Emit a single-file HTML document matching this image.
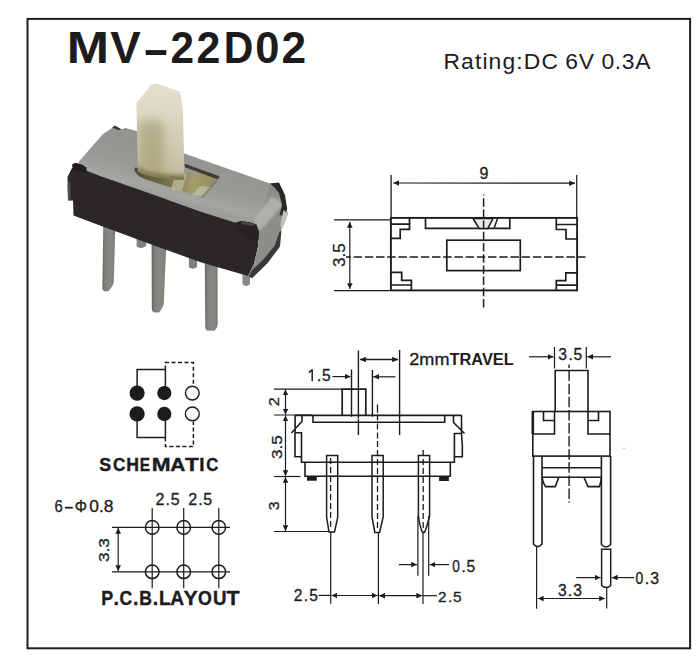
<!DOCTYPE html>
<html><head><meta charset="utf-8">
<style>
html,body{margin:0;padding:0;background:#fff;}
body{width:700px;height:660px;overflow:hidden;position:relative;}
svg{position:absolute;left:0;top:0;}
text{font-family:"Liberation Sans",sans-serif;fill:#1d1b1b;}
.lb text{stroke:#1d1b1b;stroke-width:0.3px;}
.lb path{stroke:#1d1b1b;}
</style></head><body>
<svg width="700" height="660" viewBox="0 0 700 660">
<defs>
<marker id="a" viewBox="0 0 5.8 5.6" refX="5.8" refY="2.8" markerWidth="5.8" markerHeight="5.6" markerUnits="userSpaceOnUse" orient="auto-start-reverse"><path d="M0,0 L5.8,2.8 L0,5.6 z" fill="#1d1b1b"/></marker>
<filter id="blur4" x="-50%" y="-50%" width="200%" height="200%"><feGaussianBlur stdDeviation="4"/></filter><filter id="blur2" x="-50%" y="-50%" width="200%" height="200%"><feGaussianBlur stdDeviation="1.5"/></filter>
<filter id="blur1" x="-50%" y="-50%" width="200%" height="200%"><feGaussianBlur stdDeviation="1"/></filter>
<filter id="soft" x="-5%" y="-5%" width="110%" height="110%"><feGaussianBlur stdDeviation="0.6"/></filter>
<linearGradient id="pinG" x1="0" y1="0" x2="1" y2="0"><stop offset="0" stop-color="#5f5f5b"/><stop offset="0.18" stop-color="#80807b"/><stop offset="0.6" stop-color="#888883"/><stop offset="0.88" stop-color="#81817c"/><stop offset="1" stop-color="#6a6a66"/></linearGradient>
<linearGradient id="topG" gradientUnits="userSpaceOnUse" x1="160" y1="138" x2="145" y2="192"><stop offset="0" stop-color="#919390"/><stop offset="0.6" stop-color="#989a96"/><stop offset="0.9" stop-color="#a4a6a1"/><stop offset="1" stop-color="#9c9e99"/></linearGradient>
<linearGradient id="slotG" gradientUnits="userSpaceOnUse" x1="130" y1="180" x2="220" y2="185"><stop offset="0" stop-color="#4e4a34"/><stop offset="0.45" stop-color="#7a7450"/><stop offset="0.7" stop-color="#a39c6c"/><stop offset="1" stop-color="#8f8a60"/></linearGradient>
<linearGradient id="knobG" x1="0" y1="0" x2="0" y2="1"><stop offset="0" stop-color="#e2e0cd"/><stop offset="0.25" stop-color="#dcd9c5"/><stop offset="0.6" stop-color="#d0ccb3"/><stop offset="0.9" stop-color="#c5c0a1"/><stop offset="1" stop-color="#8c8458"/></linearGradient>
<linearGradient id="knobS" x1="0" y1="0" x2="1" y2="0"><stop offset="0" stop-color="#8f885a" stop-opacity="0.3"/><stop offset="0.12" stop-color="#8f885a" stop-opacity="0.45"/><stop offset="0.4" stop-color="#8f885a" stop-opacity="0.3"/><stop offset="0.65" stop-color="#8f885a" stop-opacity="0.05"/><stop offset="1" stop-color="#8f885a" stop-opacity="0"/></linearGradient>
</defs>
<rect x="0" y="0" width="700" height="660" fill="#fff"/>
<!-- border -->
<rect x="27.5" y="18.9" width="662.6" height="629.4" fill="none" stroke="#221e1e" stroke-width="2"/>

<!-- title -->
<g font-size="45" font-weight="bold">
 <text transform="translate(66.72,62.8) scale(1.127,1)">M</text>
 <text transform="translate(110.19,62.8) scale(1.015,1)">V</text>
 <rect x="145.7" y="50.1" width="20.6" height="4.9" fill="#1d1b1b"/>
 <text transform="translate(170.4,62.8) scale(0.94,1)">2</text>
 <text transform="translate(196.5,62.8) scale(0.955,1)">2</text>
 <text transform="translate(223.8,62.8) scale(0.91,1)">D</text>
 <text transform="translate(255.3,62.8) scale(0.967,1)">0</text>
 <text transform="translate(281.4,62.8) scale(0.984,1)">2</text>
</g>
<text transform="translate(443.45,69.1) scale(1.06,1)" font-size="21.6" letter-spacing="1.05">Rating:DC</text>
<text transform="translate(565.3,69.1) scale(1.06,1)" font-size="21.6" letter-spacing="0.58">6V 0.3A</text>

<!-- ============ TOP VIEW ============ -->
<g stroke="#1d1b1b" fill="none">
 <line x1="391.1" y1="175" x2="391.1" y2="218" stroke-width="1.3"/>
 <line x1="576.7" y1="175" x2="576.7" y2="218" stroke-width="1.2"/>
 <line x1="393.3" y1="183" x2="575" y2="183.2" stroke-width="1.2" marker-start="url(#a)" marker-end="url(#a)"/>
 <line x1="334" y1="219.8" x2="390" y2="219.8" stroke-width="1.2"/>
 <line x1="334" y1="290.7" x2="390" y2="290.7" stroke-width="1.2"/>
 <line x1="349.8" y1="222" x2="349.8" y2="289" stroke-width="1.2" marker-start="url(#a)" marker-end="url(#a)"/>
 <rect x="390.9" y="217.9" width="186.2" height="72.5" stroke-width="1.9"/>
 <!-- corners -->
 <path d="M391,224.2 H409.5 V229.4 H400.2 V238.3 H391" stroke-width="1.7"/>
 <path d="M577,224.5 H556.3 V218 M556.3,224.5 V229.5 H566 V239 H577" stroke-width="1.7"/>
 <path d="M409.5,218 V224" stroke-width="1.7"/>
 <path d="M391,272.4 H401.7 V280.3 H411.4 V290 M391,285 H411.4" stroke-width="1.7"/>
 <path d="M577,272.8 H565.8 V280.6 H556.3 V290 M556.3,285.1 H577" stroke-width="1.7"/>
 <!-- slot -->
 <path d="M425.5,218 V228.4 H509.8 V218" stroke-width="1.7"/>
 <path d="M473,218.5 L479.2,228.4 L487.8,228.4 L493,218.5 Z" fill="#e9e9e9" stroke-width="1.5"/>
 <path d="M497.5,218.5 L494,228.4" stroke-width="1.5"/>
 <rect x="446.8" y="240.2" width="73.5" height="30.4" stroke-width="1.7"/>
 <line x1="346" y1="257" x2="585.5" y2="257" stroke-width="1.5" stroke-dasharray="8.5 2.7" stroke-dashoffset="3.6"/>
 <line x1="483.6" y1="194.5" x2="483.6" y2="308.5" stroke-width="1.5" stroke-dasharray="8.5 2.7" stroke-dashoffset="7.5"/>
</g>
<g class="lb"><text x="484.00" y="179.30" text-anchor="middle" font-size="16">9</text></g>
<g class="lb"><text transform="translate(345.2,267) rotate(-90) scale(1.06,1)" font-size="16">3.5</text></g>

<!-- ============ SCHEMATIC ============ -->
<g stroke="#1d1b1b" fill="none" stroke-width="1.5">
 <path d="M137.1,393 V369.5 H165.4 V393"/>
 <path d="M137.1,414 V437.6 H165.4 V414"/>
 <path d="M165.4,369.5 V362.6 H193.4 V386" stroke-dasharray="4 2.5"/>
 <path d="M165.4,437.6 V446.6 H193.4 V421.5" stroke-dasharray="4 2.5"/>
</g>
<g fill="#1d1b1b">
 <circle cx="137.1" cy="393.1" r="7.6"/>
 <circle cx="164.3" cy="393.1" r="7.1"/>
 <circle cx="137.1" cy="413.9" r="7.6"/>
 <circle cx="164.3" cy="413.9" r="7.1"/>
</g>
<g fill="#fafafa" stroke="#1d1b1b" stroke-width="1.4">
 <circle cx="192.3" cy="393.1" r="6.9"/>
 <circle cx="192.3" cy="413.9" r="6.9"/>
</g>
<g font-size="18" font-weight="bold" text-anchor="middle" style="stroke:#1d1b1b;stroke-width:0.4px"><text transform="translate(105.30,470.5) scale(0.99,1)">S</text><text transform="translate(119.25,470.5) scale(0.95,1)">C</text><text transform="translate(132.55,470.5) scale(0.98,1)">H</text><text transform="translate(144.95,470.5) scale(0.86,1)">E</text><text transform="translate(161.30,470.5) scale(1.26,1)">M</text><text transform="translate(177.80,470.5) scale(1.16,1)">A</text><text transform="translate(191.95,470.5) scale(1.26,1)">T</text><text transform="translate(201.95,470.5) scale(1.05,1)">I</text><text transform="translate(212.25,470.5) scale(0.93,1)">C</text></g>

<!-- ============ PCB LAYOUT ============ -->
<g stroke="#1d1b1b" fill="none" stroke-width="1.2">
 <line x1="112" y1="527.4" x2="230" y2="527.4"/>
 <line x1="112" y1="571.8" x2="230" y2="571.8"/>
 <line x1="152.2" y1="508" x2="152.2" y2="588.3"/>
 <line x1="183.7" y1="508" x2="183.7" y2="588.3"/>
 <line x1="218.8" y1="508" x2="218.8" y2="588.3"/>
 <line x1="118.2" y1="528" x2="118.2" y2="571" marker-start="url(#a)" marker-end="url(#a)"/>
</g>
<g stroke="#1d1b1b" fill="none" stroke-width="1.5">
 <circle cx="152.2" cy="527.4" r="6.8"/><circle cx="183.7" cy="527.4" r="6.8"/><circle cx="218.8" cy="527.4" r="6.8"/>
 <circle cx="152.2" cy="571.8" r="6.8"/><circle cx="183.7" cy="571.8" r="6.8"/><circle cx="218.8" cy="571.8" r="6.8"/>
</g>
<g class="lb"><text transform="translate(54.4,511.7) scale(0.93,1)" font-size="16">6</text>
<rect x="64.9" y="506.8" width="7.9" height="1.8" fill="#1d1b1b"/>
<text transform="translate(74.74,511.7) scale(0.96,1)" font-size="16">Φ</text>
<text transform="translate(89.3,511.7) scale(1.09,1)" font-size="16">0.8</text></g>
<g class="lb"><text x="160.00" y="504.50" text-anchor="middle" font-size="16">2</text><text x="167.80" y="504.50" text-anchor="middle" font-size="16">.</text><text x="175.20" y="504.50" text-anchor="middle" font-size="16">5</text></g>
<g class="lb"><text x="192.80" y="504.50" text-anchor="middle" font-size="16">2</text><text x="200.45" y="504.50" text-anchor="middle" font-size="16">.</text><text x="207.75" y="504.50" text-anchor="middle" font-size="16">5</text></g>
<g class="lb"><text transform="translate(109.3,562.1) rotate(-90) scale(1.11,1)" font-size="15.5">3.3</text></g>
<g font-size="19.5" font-weight="bold" text-anchor="middle" style="stroke:#1d1b1b;stroke-width:0.35px"><text transform="translate(107.15,605.2) scale(0.92,1)">P</text><text transform="translate(116.15,605.2) scale(1.00,1)">.</text><text transform="translate(125.90,605.2) scale(0.90,1)">C</text><text transform="translate(135.80,605.2) scale(1.00,1)">.</text><text transform="translate(145.60,605.2) scale(0.90,1)">B</text><text transform="translate(155.50,605.2) scale(1.00,1)">.</text><text transform="translate(164.85,605.2) scale(0.98,1)">L</text><text transform="translate(177.15,605.2) scale(0.98,1)">A</text><text transform="translate(190.55,605.2) scale(1.10,1)">Y</text><text transform="translate(204.85,605.2) scale(0.91,1)">O</text><text transform="translate(219.70,605.2) scale(0.96,1)">U</text><text transform="translate(233.15,605.2) scale(1.10,1)">T</text></g>

<!-- ============ SIDE VIEW ============ -->
<g stroke="#1d1b1b" fill="none">
 <!-- extension lines left -->
 <line x1="274" y1="389.1" x2="342" y2="389.1" stroke-width="1.2"/>
 <line x1="274" y1="415" x2="311.5" y2="415" stroke-width="1.2"/>
 <line x1="274" y1="476.5" x2="300.5" y2="476.5" stroke-width="1.2"/>
 <line x1="274" y1="531.5" x2="330" y2="531.5" stroke-width="1.2"/>
 <line x1="285.5" y1="389.5" x2="285.5" y2="414.5" stroke-width="1.2" marker-start="url(#a)" marker-end="url(#a)"/>
 <line x1="285.5" y1="415.5" x2="285.5" y2="476" stroke-width="1.2" marker-start="url(#a)" marker-end="url(#a)"/>
 <line x1="285.5" y1="477" x2="285.5" y2="531" stroke-width="1.2" marker-start="url(#a)" marker-end="url(#a)"/>
 <!-- knob -->
 <path d="M342.2,415.3 V389.1 H365.8 V415.3" stroke-width="1.7"/>
 <!-- travel / 1.5 ext lines -->
 <line x1="351.5" y1="369.5" x2="351.5" y2="416.8" stroke-width="1.4"/>
 <line x1="358.4" y1="350.5" x2="358.4" y2="435" stroke-width="1.4"/>
 <line x1="372.4" y1="370" x2="372.4" y2="416.8" stroke-width="1.4"/>
 <line x1="399.6" y1="350" x2="399.6" y2="435" stroke-width="1.4"/>
 <line x1="360" y1="359.5" x2="398" y2="359.5" stroke-width="1.4" marker-start="url(#a)" marker-end="url(#a)"/>
 <line x1="332.5" y1="376.6" x2="350.5" y2="376.6" stroke-width="1.2" marker-end="url(#a)"/>
 <line x1="395.5" y1="376.8" x2="373.2" y2="376.8" stroke-width="1.2" marker-end="url(#a)"/>
 <!-- body -->
 <line x1="295" y1="415.3" x2="461.5" y2="415.3" stroke-width="1.8"/>
 <line x1="315" y1="418.8" x2="443" y2="418.8" stroke="#d8d8d8" stroke-width="0.8" stroke-dasharray="1.5 1"/>
 <path d="M313,415.3 V422.2 H444.7 V415.3" stroke-width="1.6"/>
 <path d="M295.1,415.3 V432.7 M302,415.3 V421.3 L291.4,433 M295,432.7 H301.5 V456.7 H295 Z M301.5,456.7 V462.2 H454.4 V456.8" stroke-width="1.6"/>
 <path d="M453.5,415.3 V422.5 L464.5,433.5 M461.5,415.3 V433.5 M454.4,433.5 H461.5 Q462.8,445 462.3,456.8 H454.4 Z" stroke-width="1.6"/>
 <path d="M305,462.2 V476.2 H450.3 V462.2" stroke-width="1.6"/>
 <!-- pins -->
 <path d="M326.6,455.5 H337.7 V517.5 L334.5,532 H329 L326.6,517 Z" stroke-width="1.5" fill="#fff"/>
 <path d="M372,455.5 H383.2 V517 L379.6,532.5 H374.8 L372,517 Z" stroke-width="1.5" fill="#fff"/>
 <path d="M418.4,455.5 H429.6 V516 Q426,530 424.5,532.3 H422.5 Q420,528 418.4,516 Z" stroke-width="1.5" fill="#fff"/>
 <line x1="326.6" y1="462.2" x2="337.7" y2="462.2" stroke-width="1.6"/>
 <line x1="372" y1="462.2" x2="383.2" y2="462.2" stroke-width="1.6"/>
 <line x1="418.4" y1="462.2" x2="429.6" y2="462.2" stroke-width="1.6"/>
 <line x1="326.6" y1="476.2" x2="337.7" y2="476.2" stroke-width="1.6"/>
 <line x1="372" y1="476.2" x2="383.2" y2="476.2" stroke-width="1.6"/>
 <line x1="418.4" y1="476.2" x2="429.6" y2="476.2" stroke-width="1.6"/>
 <line x1="330.6" y1="458" x2="330.6" y2="530" stroke-width="1.3" stroke-dasharray="6 3"/>
 <line x1="377.5" y1="404.4" x2="377.5" y2="530" stroke-width="1.3" stroke-dasharray="8.4 1.8 6 2.8 6 3 6 2.5 6 3 6 3 6 3 6 3 6 3 6 3 6 3 6 3 6 3 6 3"/>
 <line x1="423.2" y1="450" x2="423.2" y2="530" stroke-width="1.3" stroke-dasharray="6 3"/>
 <!-- 0.5 ext lines -->
 <line x1="417.9" y1="516" x2="417.9" y2="575.7" stroke-width="1.2"/>
 <line x1="428.7" y1="516" x2="428.7" y2="575.7" stroke-width="1.2"/>
 <line x1="398.8" y1="564.6" x2="417" y2="564.6" stroke-width="1.2" marker-end="url(#a)"/>
 <line x1="449" y1="564.6" x2="429.6" y2="564.6" stroke-width="1.2" marker-end="url(#a)"/>
 <!-- bottom 2.5 dims -->
 <line x1="330.7" y1="532" x2="330.7" y2="603.8" stroke-width="1.2"/>
 <line x1="378.4" y1="533" x2="378.4" y2="604" stroke-width="1.2"/>
 <line x1="423" y1="533" x2="423" y2="604" stroke-width="1.2"/>
 <line x1="318.6" y1="595.4" x2="330.7" y2="595.4" stroke-width="1.2"/>
 <line x1="331.5" y1="595.5" x2="377.6" y2="595.5" stroke-width="1.2" marker-start="url(#a)" marker-end="url(#a)"/>
 <line x1="379.2" y1="595.7" x2="422.2" y2="595.7" stroke-width="1.2" marker-start="url(#a)" marker-end="url(#a)"/>
 <line x1="423" y1="595.7" x2="437" y2="595.7" stroke-width="1.2"/>
</g>
<g fill="#1d1b1b">
 <rect x="307" y="476" width="9.8" height="4.7"/>
 <rect x="439.1" y="476" width="9.8" height="5"/>
</g>
<g class="lb"><text x="319.10" y="381.20" text-anchor="middle" font-size="15.6">.</text><text x="326.45" y="381.20" text-anchor="middle" font-size="15.6">5</text><path d="M312.2,369.3 V381.2 M312.3,369.6 L308.9,372.6" stroke-width="1.45" fill="none"/></g>
<g class="lb"><text transform="translate(409.3,364.9) scale(1.13,1)" font-size="16">2mm</text></g>
<text transform="translate(449.5,364.9) scale(1.024,1)" font-size="16" font-weight="bold">TRAVEL</text>
<g class="lb"><text transform="translate(279.2,406.3) rotate(-90) scale(1.07,1)" font-size="15.2">2</text></g>
<g class="lb"><text transform="translate(281.6,459) rotate(-90) scale(1.12,1)" font-size="15.3">3.5</text></g>
<g class="lb"><text transform="translate(279.2,510.35) rotate(-90) scale(1.04,1)" font-size="15.2">3</text></g>
<g class="lb"><text transform="translate(456.00,571.90) scale(0.88,1)" text-anchor="middle" font-size="15.6">0</text><text x="463.65" y="571.90" text-anchor="middle" font-size="15.6">.</text><text x="470.85" y="571.90" text-anchor="middle" font-size="15.6">5</text></g>
<g class="lb"><text x="298.15" y="601.40" text-anchor="middle" font-size="15.6">2</text><text x="305.90" y="601.40" text-anchor="middle" font-size="15.6">.</text><text x="313.55" y="601.40" text-anchor="middle" font-size="15.6">5</text></g>
<g class="lb"><text x="442.30" y="601.90" text-anchor="middle" font-size="15.4">2</text><text x="450.10" y="601.90" text-anchor="middle" font-size="15.4">.</text><text x="457.40" y="601.90" text-anchor="middle" font-size="15.4">5</text></g>

<!-- ============ END VIEW ============ -->
<g stroke="#1d1b1b" fill="none">
 <line x1="554.5" y1="347" x2="554.5" y2="368.5" stroke-width="1.2"/>
 <line x1="586.3" y1="347" x2="586.3" y2="368.5" stroke-width="1.2"/>
 <line x1="529" y1="356.8" x2="553.5" y2="356.8" stroke-width="1.2" marker-end="url(#a)"/>
 <line x1="611" y1="356.8" x2="587.3" y2="356.8" stroke-width="1.2" marker-end="url(#a)"/>
 <path d="M555.2,411.5 V370.5 H588 V411.5" stroke-width="1.6"/>
 <rect x="532.8" y="411.5" width="77.2" height="44.6" stroke-width="1.6"/>
 <line x1="532.8" y1="411.5" x2="532.8" y2="434" stroke-width="2.6"/>
 <path d="M543.5,411.5 V420.5 H554.5 M554.5,411.5 V434 H532.8" stroke-width="1.6"/>
 <path d="M598.5,411.5 V420.5 H588 M588,411.5 V434 H610" stroke-width="1.6"/>
 <!-- pins -->
 <path d="M533.5,456 V544 Q537.5,549 542,544 V456" stroke-width="1.6"/>
 <path d="M601.4,456 V544.5 Q606,549.5 610.6,544.5 V456" stroke-width="1.6"/>
 <path d="M601.6,549.2 H610.7 V585.5 Q606.2,589.5 601.6,585.5 Z" stroke-width="1.5"/>
 <line x1="542" y1="467.7" x2="601.4" y2="467.7" stroke-width="1.6"/>
 <line x1="542" y1="477.3" x2="601.4" y2="477.3" stroke-width="1.6"/>
 <path d="M542,477.3 Q543,483 545.5,486.6 H555.3 L558.8,477.3" stroke-width="1.6"/>
 <path d="M583.9,477.3 L588,486.6 H599.4 Q601,483 601.4,477.3" stroke-width="1.6"/>
 <line x1="569.1" y1="364.5" x2="569.1" y2="502.7" stroke-width="1.4" stroke-dasharray="10.5 2.6" stroke-dashoffset="7"/>
 <line x1="536.6" y1="546.5" x2="536.6" y2="608.7" stroke-width="1.2"/>
 <line x1="606.7" y1="588" x2="606.7" y2="608.5" stroke-width="1.2"/>
 <line x1="537.8" y1="598.5" x2="605" y2="598.5" stroke-width="1.2" marker-start="url(#a)" marker-end="url(#a)"/>
 <line x1="576.2" y1="577.6" x2="600.5" y2="577.6" stroke-width="1.2" marker-end="url(#a)"/>
 <line x1="634.1" y1="577.6" x2="611.8" y2="577.6" stroke-width="1.2" marker-end="url(#a)"/>
</g>
<g class="lb"><text x="562.70" y="360.40" text-anchor="middle" font-size="15.6">3</text><text x="570.55" y="360.40" text-anchor="middle" font-size="15.6">.</text><text x="577.75" y="360.40" text-anchor="middle" font-size="15.6">5</text></g>
<g class="lb"><text x="562.35" y="596.40" text-anchor="middle" font-size="15.6">3</text><text x="569.90" y="596.40" text-anchor="middle" font-size="15.6">.</text><text x="577.55" y="596.40" text-anchor="middle" font-size="15.6">3</text></g>
<g class="lb"><text transform="translate(639.35,584.30) scale(0.88,1)" text-anchor="middle" font-size="15.8">0</text><text x="646.95" y="584.30" text-anchor="middle" font-size="15.8">.</text><text x="654.70" y="584.30" text-anchor="middle" font-size="15.8">3</text></g>

<circle cx="624" cy="448.3" r="0.7" fill="#9a9a9a"/>
<!-- ============ PHOTO ============ -->
<g id="photo" filter="url(#soft)">
 <!-- back pin stubs -->
 <path d="M136.6,236 H146.2 V246 Q141,249.5 136.6,246.5 Z" fill="#80807b"/>
 <path d="M188.9,256 H197.1 V267 Q193,270 188.9,267.5 Z" fill="#80807b"/>
 <path d="M242.4,272 H250 V284 Q246.2,288 242.4,284 Z" fill="#8c8c87"/>
 <!-- front pins -->
 <path d="M103.4,218 L115.4,218 L113.8,282 Q113.5,285 111,288 L108.5,291.2 L104.2,291.2 Q102.4,290.5 102.4,288 Z" fill="url(#pinG)"/>
 <path d="M151.6,238 L166.5,238 L163.8,303 Q163.5,306 161.5,309 L159.3,312.5 L154,312.5 Q151.8,311.5 151.8,309 Z" fill="url(#pinG)"/>
 <path d="M204.8,257 L217.5,257 L217.6,324 Q217.5,327 216,329 L214.5,330.8 L207.5,330.8 Q205.3,329.8 205.3,327 Z" fill="url(#pinG)"/>
 <!-- black front face -->
 <path d="M67.5,177 L72,168 L80,164.5 L86,168.5 L100,174 L150,191.5 L200,209.5 L235.5,220.7 L241,220 L252,222.7 L256.4,224.5 L259,231.8 L258,246.4 L254,264 L248,276 L200,262 L150,244 L100,225.5 L73.5,215.5 L73,200.5 L68,200.5 Z" fill="#2a2629"/>
 <!-- grey top surface -->
 <path d="M80,166 L78.5,162 L103,134 L114.3,126.4 L121.4,129.3 L125.7,127.9 L136.4,131 L150,140 L184.3,153.6 L271.5,184 L265,220 L256.4,224.5 L252,222.7 L241,221 L235.5,222.7 L200,211.5 L150,193.5 L100,176 L86,170.5 Z" fill="url(#topG)"/>
 <!-- left end piece -->
 <path d="M72,164.5 L75.5,162.8 L82,164.5 L86.5,167.5 L86.5,172.5 L79,171.5 L73,170 Z" fill="#221e21"/>
 <path d="M67.5,185 L68.5,182 L70.5,182 L70.5,200.5 L68,200.5 Z" fill="#5a5858" opacity="0.8"/>
 <path d="M112,127.5 L115,125.5 L121.4,129.3 L118,130 Z" fill="#3a3636"/>
 <!-- slot -->
 <path d="M134.5,167.5 L219.5,176.3 L201,197 L146,179.5 Q137,176 134.5,171 Z" fill="url(#slotG)"/>
 <path d="M176,172.5 L187,174 L182,191 L171,189 Z" fill="#d2cfb6" opacity="0.55"/>
 <path d="M200,186 L211,187 L203,196.5 L192,195 Z" fill="#c9c9ba" opacity="0.6"/>
 <path d="M184.6,163.8 L219.5,176.3 L217.5,179.2 L185,167.2 Z" fill="#3c3a30"/>
 <path d="M201,197 L219.5,176.3 L220.5,177.5 L202.5,198 Z" fill="#6a6a62" opacity="0.6"/>
 <!-- right end face -->
 <path d="M256.4,224.5 L262,219 L270,183.6 L279,182.7 L286.4,209 L288,213.6 L284.5,222.7 L281,230 L279,235.5 L278,246.4 L266,262 L250,277.3 L248,276 L254,264 L258,246.4 L259,231.8 Z" fill="#8d8d89"/>
 <path d="M254,221 L259,214.5 L271,197 L278.5,199.5 L282,206 L265,225.5 L259.5,231 Z" fill="#b4b4af" opacity="0.9" filter="url(#blur1)"/>
 <path d="M270,183.6 L279,182.5 L285,195 L287.2,209 L284,216 L279.5,215 L282.2,205 L279,193 L274.5,187.5 Z" fill="#2a2628"/>
 <path d="M283.5,210 L288,213.6 L285,223 L281.5,230 L280.5,224 Z" fill="#c2c2bd"/>
 <path d="M279.5,232 L281.5,230 L280,246.5 L268,262.5 L252,278 L249,276.5 L262,261 L274.5,246 Z" fill="#3a3838"/>
 <path d="M252,270 L270,254 L268,262.5 L252,278 L249,276.5 Z" fill="#3a3838"/>
 <path d="M235.5,222.7 L241,221 L252,222.7 L256.4,224.5 L259,231.8 L258.5,240 L250,238 L240,230 Z" fill="#262225"/>
 <path d="M241,221.6 L252,223.3 L255.5,225 L252,226 L242,224 Z" fill="#5a5858" opacity="0.7"/>
 <!-- photo knob -->
 <clipPath id="knobClip"><path d="M136.4,103 L136.8,102.5 L151.5,84.5 L156,83.5 L179.5,91.5 L180.8,95 L182.9,110 L184.3,170 L184.3,180 Q170,180 160,177.5 Q142,175 137.9,171 Z"/></clipPath>
 <path d="M136.4,103 L136.8,102.5 L151.5,84.5 L156,83.5 L179.5,91.5 L180.8,95 L182.9,110 L184.3,170 L184.3,180 Q170,180 160,177.5 Q142,175 137.9,171 Z" fill="url(#knobG)"/>
 <g clip-path="url(#knobClip)">
  <path d="M138,122 L152,119 L162,121 L160,176 L138,172 Z" fill="#9a9264" opacity="0.45" filter="url(#blur4)"/>
  <path d="M150,130 L165,128 L167,178 L152,176 Z" fill="#a39c70" opacity="0.3" filter="url(#blur4)"/>
  <path d="M137.9,164 Q142,171 160,173.5 Q172,176 184.3,176 L184.3,186 L137,186 Z" fill="#6e6640" opacity="0.55" filter="url(#blur2)"/>
 </g>
</g>
</svg>
</body></html>
